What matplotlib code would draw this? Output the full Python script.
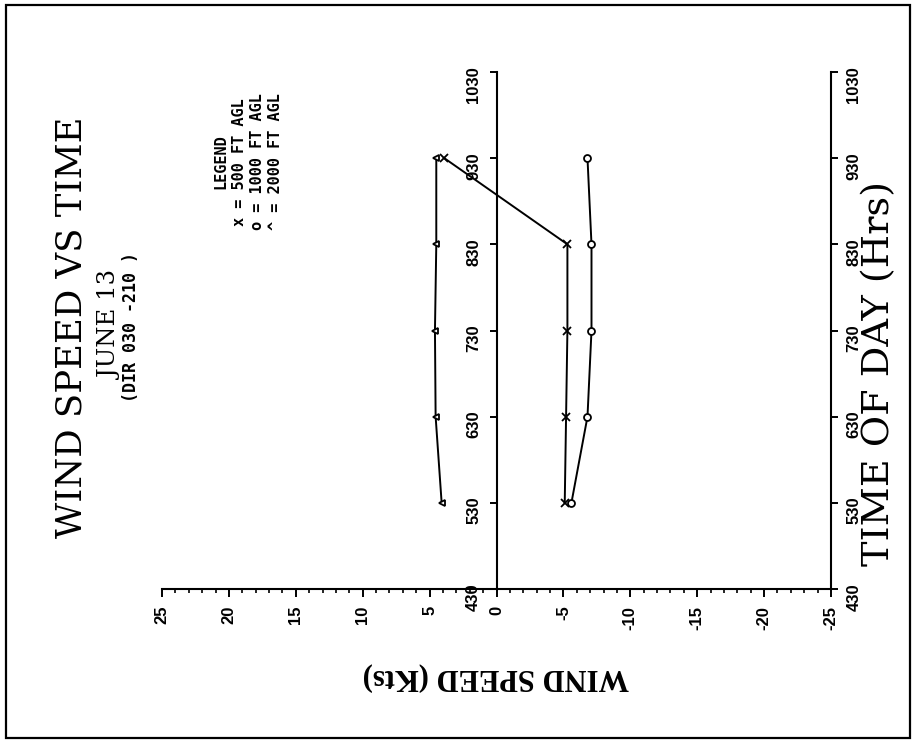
# -*- coding: utf-8 -*-
"""
wind speed vs time (June 13), drawn sideways like the scanned original:
time runs up the page, wind speed runs right-to-left.
"""
import matplotlib
matplotlib.use("Agg")
import matplotlib.pyplot as plt
from matplotlib.patches import Rectangle

plt.rcParams["axes.unicode_minus"] = False

# =========================
# data
# =========================
times = [5.5, 6.5, 7.5, 8.5, 9.5]          # hours (5:30 ... 9:30)
speed_500 = [-5.1, -5.2, -5.3, -5.3, 3.9]  # x = 500 FT AGL
speed_1000 = [-5.6, -6.8, -7.1, -7.1, -6.8]  # o = 1000 FT AGL
speed_2000 = [4.1, 4.55, 4.6, 4.5, 4.5]    # ^ = 2000 FT AGL

time_ticks = [4.5, 5.5, 6.5, 7.5, 8.5, 9.5, 10.5]
time_labels = ["430", "530", "630", "730", "830", "930", "1030"]
speed_ticks = [25, 20, 15, 10, 5, 0, -5, -10, -15, -20, -25]
speed_labels = ["25", "20", "15", "10", "5", "0", "-5", "-10", "-15", "-20", "-25"]

TICK_FONT = dict(family="Liberation Sans", weight="bold", size=12)
W, H = 915, 741


def fx(px):
    return px / W


def fy(py):
    return 1 - py / H


fig = plt.figure(figsize=(W / 100, H / 100), dpi=100)
fig.patch.set_facecolor("white")

# outer frame of the page
fig.patches.append(Rectangle((fx(6), fy(738)), fx(910) - fx(6), fy(5) - fy(738),
                             transform=fig.transFigure, fill=False,
                             edgecolor="black", linewidth=1.6))

ax = fig.add_axes([fx(162), fy(589), fx(831) - fx(162), fy(72) - fy(589)])
ax.set_xlim(25, -25)
ax.set_ylim(4.5, 10.5)

# --- series ---
ax.plot(speed_500, times, color="black", lw=1.4, marker="x", ms=6, mew=1.3)
ax.plot(speed_1000, times, color="black", lw=1.4, marker="o", ms=5, mfc="white", mew=1.3)
ax.plot(speed_2000, times, color="black", lw=1.4, marker="<", ms=4, mfc="white", mew=1.3)

# --- spines ---
ax.spines["top"].set_visible(False)
ax.spines["right"].set_visible(False)
ax.spines["left"].set_position(("data", 0))
for s in ("left", "bottom"):
    ax.spines[s].set_linewidth(1.5)

# speed axis (bottom)
ax.set_xticks(speed_ticks)
ax.set_xticklabels(speed_labels, rotation=90, **TICK_FONT)
ax.set_xticks(range(-25, 26), minor=True)
ax.tick_params(axis="x", which="major", direction="out", length=6, width=1.4, pad=6)
ax.tick_params(axis="x", which="minor", direction="out", length=3, width=1.2)

# time axis on the zero line
ax.set_yticks(time_ticks)
ax.set_yticklabels(time_labels, rotation=90, **TICK_FONT)
ax.tick_params(axis="y", direction="out", length=5, width=1.4, pad=6)

# time axis on the right edge
ax2 = ax.twinx()
ax2.set_ylim(ax.get_ylim())
for s in ("top", "left", "bottom"):
    ax2.spines[s].set_visible(False)
ax2.spines["right"].set_linewidth(1.5)
ax2.set_yticks(time_ticks)
ax2.set_yticklabels(time_labels, rotation=90, **TICK_FONT)
ax2.tick_params(axis="y", direction="out", length=5, width=1.4, pad=6)

# --- titles / labels ---
fig.text(fx(72), fy(327), "WIND SPEED VS TIME", rotation=90, ha="center", va="center",
         family="DejaVu Serif", size=25.5)
fig.text(fx(110), fy(325), "JUNE 13", rotation=90, ha="center", va="center",
         family="DejaVu Serif", size=17.5)
fig.text(fx(131), fy(327), "(DIR 030 -210 )", rotation=90, ha="center", va="center",
         family="DejaVu Sans Mono", weight="bold", size=12)

legend_lines = ["LEGEND", "x = 500 FT AGL", "o = 1000 FT AGL", "^ = 2000 FT AGL"]
legend_x = [221, 239, 257, 275]
for txt, px in zip(legend_lines, legend_x):
    fig.text(fx(px), fy(162), txt, rotation=90, ha="center", va="center",
             family="DejaVu Sans Mono", weight="bold", size=11)

fig.text(fx(879), fy(374), "TIME OF DAY (Hrs)", rotation=90, ha="center", va="center",
         family="DejaVu Serif", size=27.5)
fig.text(fx(496), fy(677), "WIND SPEED (Kts)", rotation=180, ha="center", va="center",
         family="Liberation Serif", weight="bold", size=22)

fig.savefig("out.png", dpi=100, facecolor="white")
